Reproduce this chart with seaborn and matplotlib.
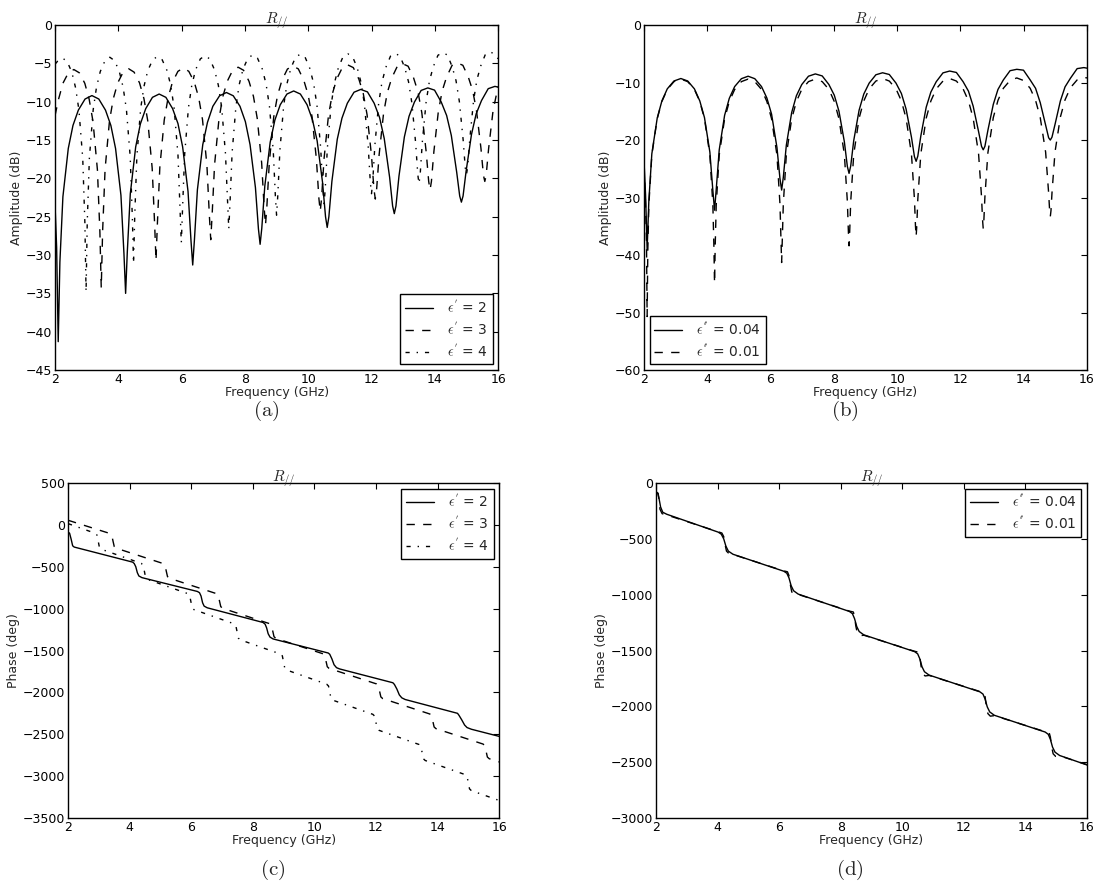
import matplotlib
matplotlib.use("Agg")
import matplotlib.pyplot as plt
import seaborn as sns

# (a) amplitude, eps' = 2 / 3 / 4
freq_a2 = [2.0, 2.05, 2.1,
           2.153, 2.248, 2.418, 2.566, 2.736, 2.948, 3.165, 3.382, 3.594, 3.764, 3.912, 4.082, 4.177, 4.23,
           4.283, 4.378, 4.548, 4.696, 4.866, 5.078, 5.29, 5.502, 5.714, 5.884, 6.032, 6.202, 6.297, 6.35,
           6.403, 6.498, 6.668, 6.816, 6.986, 7.198, 7.415, 7.632, 7.844, 8.014, 8.162, 8.332, 8.427, 8.48,
           8.533, 8.628, 8.798, 8.946, 9.116, 9.328, 9.54, 9.752, 9.964, 10.134, 10.282, 10.452, 10.547, 10.6,
           10.653, 10.748, 10.918, 11.066, 11.236, 11.448, 11.66, 11.872, 12.084, 12.254, 12.402, 12.572, 12.667, 12.72,
           12.773, 12.868, 13.038, 13.186, 13.356, 13.568, 13.78, 13.992, 14.204, 14.374, 14.522, 14.692, 14.787, 14.84,
           14.893, 14.988, 15.158, 15.306, 15.476, 15.688, 15.9, 16.0]
amp_a2 = [-23.5, -29, -41.3,
          -30.9, -22.4, -16.1, -13.1, -11.1, -9.65, -9.2, -9.65, -11.1, -13.1, -16.1, -22.2, -29.8, -35.0,
          -29.6, -22.0, -15.9, -12.9, -10.9, -9.43, -9.0, -9.43, -10.9, -12.85, -15.9, -21.7, -28.2, -31.3,
          -28.1, -21.5, -15.6, -12.7, -10.6, -9.23, -8.8, -9.23, -10.6, -12.6, -15.6, -21.2, -26.6, -28.6,
          -26.5, -21.0, -15.3, -12.4, -10.4, -9.0, -8.6, -9.0, -10.4, -12.35, -15.1, -20.5, -25.0, -26.4,
          -25.0, -20.4, -14.9, -12.15, -10.2, -8.76, -8.4, -8.72, -10.2, -12.05, -14.8, -19.85, -23.6, -24.6,
          -23.6, -19.7, -14.6, -11.9, -10.05, -8.53, -8.2, -8.49, -10.05, -11.8, -14.4, -19.2, -22.3, -23.1,
          -22.3, -19.1, -14.3, -11.6, -9.85, -8.3, -8.0, -8.1]

freq_a3 = [2.0, 2.109, 2.248, 2.421, 2.594, 2.767, 2.94, 3.079, 3.2, 3.339, 3.417, 3.46,
           3.503, 3.581, 3.72, 3.841, 3.98, 4.153, 4.325, 4.497, 4.67, 4.809, 4.93, 5.069, 5.147, 5.19,
           5.233, 5.311, 5.45, 5.571, 5.71, 5.883, 6.055, 6.227, 6.4, 6.539, 6.66, 6.799, 6.877, 6.92,
           6.963, 7.041, 7.18, 7.301, 7.44, 7.613, 7.785, 7.957, 8.13, 8.269, 8.39, 8.529, 8.607, 8.65,
           8.693, 8.771, 8.91, 9.031, 9.17, 9.343, 9.515, 9.687, 9.86, 9.999, 10.12, 10.259, 10.337, 10.38,
           10.423, 10.501, 10.64, 10.761, 10.9, 11.075, 11.25, 11.425, 11.6, 11.739, 11.86, 11.999, 12.077, 12.12,
           12.163, 12.241, 12.38, 12.501, 12.64, 12.813, 12.985, 13.157, 13.33, 13.469, 13.59, 13.729, 13.807, 13.85,
           13.893, 13.971, 14.11, 14.231, 14.37, 14.543, 14.715, 14.887, 15.06, 15.199, 15.32, 15.459, 15.537, 15.58,
           15.623, 15.701, 15.84, 16.0]
amp_a3 = [-11.8, -9.7, -7.6, -6.23, -5.8, -6.23, -7.6, -9.7, -12.6, -18.9, -27.0, -34.3,
          -26.9, -18.8, -12.5, -9.6, -7.55, -6.14, -5.7, -6.14, -7.55, -9.6, -12.5, -18.65, -26.0, -30.7,
          -26.0, -18.55, -12.4, -9.5, -7.45, -6.04, -5.6, -6.04, -7.45, -9.45, -12.35, -18.3, -24.9, -28.0,
          -24.8, -18.2, -12.25, -9.35, -7.35, -5.9, -5.5, -5.9, -7.35, -9.3, -12.2, -18.0, -23.8, -26.1,
          -23.7, -17.9, -12.0, -9.17, -7.2, -5.74, -5.35, -5.72, -7.2, -9.13, -11.95, -17.5, -22.6, -24.3,
          -22.55, -17.4, -11.8, -9.0, -7.05, -5.58, -5.2, -5.55, -7.05, -8.93, -11.7, -17.0, -21.4, -22.7,
          -21.35, -16.9, -11.55, -8.78, -6.9, -5.4, -5.05, -5.37, -6.9, -8.72, -11.45, -16.6, -20.4, -21.5,
          -20.4, -16.5, -11.35, -8.63, -6.8, -5.28, -4.95, -5.25, -6.8, -8.57, -11.25, -16.1, -19.6, -20.4,
          -19.6, -16.1, -11.2, -8.0]

freq_a4 = [2.0, 2.078, 2.23, 2.38, 2.53, 2.65, 2.755, 2.875, 2.9425, 2.98,
           3.0175, 3.085, 3.205, 3.31, 3.43, 3.58, 3.73, 3.88, 4.03, 4.15, 4.255, 4.375, 4.4425, 4.48,
           4.5175, 4.585, 4.705, 4.81, 4.93, 5.085, 5.235, 5.385, 5.54, 5.66, 5.765, 5.885, 5.9525, 5.99,
           6.0275, 6.095, 6.215, 6.32, 6.44, 6.59, 6.74, 6.89, 7.04, 7.16, 7.265, 7.385, 7.4525, 7.49,
           7.5275, 7.595, 7.715, 7.82, 7.94, 8.095, 8.245, 8.395, 8.55, 8.67, 8.775, 8.895, 8.9625, 9.0,
           9.0375, 9.105, 9.225, 9.33, 9.45, 9.6, 9.75, 9.9, 10.05, 10.17, 10.275, 10.395, 10.4625, 10.5,
           10.5375, 10.605, 10.725, 10.83, 10.95, 11.1, 11.25, 11.4, 11.55, 11.67, 11.775, 11.895, 11.9625, 12.0,
           12.0375, 12.105, 12.225, 12.33, 12.45, 12.6, 12.75, 12.9, 13.05, 13.17, 13.275, 13.395, 13.4625, 13.5,
           13.5375, 13.605, 13.725, 13.83, 13.95, 14.1, 14.25, 14.4, 14.55, 14.67, 14.775, 14.895, 14.9625, 15.0,
           15.0375, 15.105, 15.225, 15.33, 15.45, 15.6, 15.75, 15.9, 16.0]
amp_a4 = [-5.1, -4.73, -4.3, -4.73, -6.15, -8.2, -11.1, -17.4, -25.8, -34.8,
          -25.7, -17.35, -11.05, -8.1, -6.05, -4.64, -4.2, -4.64, -6.05, -8.1, -11.0, -17.2, -25.1, -31.1,
          -25.0, -17.15, -10.9, -8.0, -5.95, -4.53, -4.1, -4.53, -5.95, -7.95, -10.9, -17.0, -24.1, -28.4,
          -24.1, -16.9, -10.8, -7.88, -5.85, -4.42, -4.0, -4.42, -5.85, -7.85, -10.75, -16.75, -23.3, -26.6,
          -23.3, -16.65, -10.65, -7.76, -5.75, -4.31, -3.9, -4.3, -5.75, -7.73, -10.6, -16.4, -22.35, -24.8,
          -22.3, -16.35, -10.5, -7.63, -5.65, -4.19, -3.8, -4.18, -5.65, -7.6, -10.4, -16.1, -21.4, -23.3,
          -21.4, -16.05, -10.4, -7.55, -5.6, -4.13, -3.75, -4.11, -5.6, -7.5, -10.3, -15.8, -20.5, -22.0,
          -20.5, -15.75, -10.25, -7.45, -5.55, -4.06, -3.7, -4.04, -5.55, -7.4, -10.15, -15.4, -19.5, -20.7,
          -19.5, -15.3, -10.05, -7.31, -5.45, -3.94, -3.6, -3.91, -5.45, -7.24, -9.95, -14.95, -18.6, -19.5,
          -18.55, -14.9, -9.85, -7.15, -5.35, -3.81, -3.5, -3.81, -4.4]

# (b) amplitude, eps'' = 0.04 (same frequencies as freq_a2) / 0.01
amp_b04 = [-23.5, -29.5, -39.0,
           -30.7, -22.4, -16.2, -13.2, -11.1, -9.73, -9.3, -9.73, -11.1, -13.2, -16.1, -22.1, -28.8, -32.2,
           -28.6, -21.7, -15.7, -12.75, -10.7, -9.33, -8.9, -9.33, -10.7, -12.7, -15.5, -21.3, -26.7, -28.7,
           -26.5, -20.9, -15.2, -12.3, -10.35, -8.9, -8.5, -8.85, -10.35, -12.2, -15.0, -20.3, -24.6, -25.8,
           -24.5, -20.1, -14.8, -12.0, -10.1, -8.65, -8.3, -8.6, -10.1, -11.9, -14.6, -19.5, -22.9, -23.7,
           -22.8, -19.3, -14.3, -11.65, -9.85, -8.32, -8.0, -8.25, -9.85, -11.5, -14.1, -18.5, -21.1, -21.7,
           -21.1, -18.3, -13.8, -11.2, -9.55, -7.94, -7.7, -7.85, -9.55, -11.0, -13.5, -17.4, -19.6, -20.0,
           -19.5, -17.3, -13.2, -10.75, -9.25, -7.58, -7.4, -7.5]

freq_b01 = [2.0, 2.05, 2.08, 2.1,
            2.121, 2.153, 2.248, 2.418, 2.566, 2.736, 2.948, 3.165, 3.382, 3.594, 3.764, 3.912, 4.082, 4.177, 4.209, 4.23,
            4.251, 4.283, 4.378, 4.548, 4.696, 4.866, 5.078, 5.29, 5.502, 5.714, 5.884, 6.032, 6.202, 6.297, 6.329, 6.35,
            6.371, 6.403, 6.498, 6.668, 6.816, 6.986, 7.198, 7.415, 7.632, 7.844, 8.014, 8.162, 8.332, 8.427, 8.459, 8.48,
            8.501, 8.533, 8.628, 8.798, 8.946, 9.116, 9.328, 9.54, 9.752, 9.964, 10.134, 10.282, 10.452, 10.547, 10.579, 10.6,
            10.621, 10.653, 10.748, 10.918, 11.066, 11.236, 11.448, 11.66, 11.872, 12.084, 12.254, 12.402, 12.572, 12.667, 12.699, 12.72,
            12.741, 12.773, 12.868, 13.038, 13.186, 13.356, 13.568, 13.78, 13.992, 14.204, 14.374, 14.522, 14.692, 14.787, 14.819, 14.84,
            14.861, 14.893, 14.988, 15.158, 15.306, 15.476, 15.688, 15.9, 16.0]
amp_b01 = [-24.5, -31, -38, -50.7,
           -39.3, -31.4, -22.6, -16.3, -13.3, -11.2, -9.84, -9.4, -9.84, -11.2, -13.3, -16.3, -22.6, -31.3, -38.4, -44.9,
           -38.4, -31.3, -22.6, -16.3, -13.3, -11.2, -9.84, -9.4, -9.84, -11.2, -13.3, -16.3, -22.6, -31.1, -37.3, -41.3,
           -37.3, -31.1, -22.6, -16.3, -13.3, -11.2, -9.84, -9.4, -9.84, -11.2, -13.3, -16.3, -22.5, -30.7, -35.9, -38.4,
           -35.9, -30.7, -22.5, -16.2, -13.2, -11.1, -9.74, -9.3, -9.74, -11.1, -13.2, -16.2, -22.4, -30.3, -34.9, -36.8,
           -34.9, -30.3, -22.4, -16.2, -13.2, -11.1, -9.74, -9.3, -9.74, -11.1, -13.2, -16.2, -22.3, -29.9, -33.9, -35.4,
           -33.9, -29.9, -22.2, -16.1, -13.1, -11.0, -9.64, -9.2, -9.64, -11.0, -13.1, -16.1, -22.1, -29.2, -32.3, -33.3,
           -32.3, -29.2, -22.1, -16.0, -13.0, -10.9, -9.54, -9.1, -9.2]

# (c) phase, eps' = 2 / 3 / 4
freq_c2 = [2.0, 2.05, 2.1, 2.15, 2.2, 4.1, 4.15, 4.2, 4.25, 4.3, 4.4,
           6.2, 6.27, 6.32, 6.37, 6.42, 6.52, 8.33, 8.4, 8.45, 8.5, 8.56, 8.66,
           10.45, 10.5, 10.57, 10.64, 10.72, 10.82, 12.55, 12.6, 12.68, 12.76, 12.84, 12.95,
           14.65, 14.7, 14.79, 14.88, 14.96, 15.1, 16.0]
phase_c2 = [-85, -100, -170, -250, -265, -445, -462, -500, -570, -610, -630,
            -795, -810, -850, -930, -970, -990, -1165, -1185, -1230, -1300, -1340, -1362,
            -1530, -1545, -1600, -1670, -1705, -1720, -1885, -1905, -1960, -2030, -2065, -2085,
            -2250, -2275, -2330, -2390, -2420, -2440, -2525]

freq_c3 = [2.0, 3.36, 3.42, 3.46, 3.5, 3.56, 5.09, 5.15, 5.19, 5.23, 5.29,
           6.82, 6.88, 6.92, 6.96, 7.02, 8.55, 8.61, 8.65, 8.69, 8.75,
           10.28, 10.34, 10.38, 10.42, 10.48, 12.02, 12.08, 12.12, 12.16, 12.22,
           13.75, 13.81, 13.85, 13.89, 13.95, 15.48, 15.54, 15.58, 15.62, 15.68, 16.0]
phase_c3 = [55, -103, -123, -193, -258, -278, -462, -482, -552, -617, -637,
            -821, -841, -911, -976, -996, -1180, -1200, -1270, -1335, -1355,
            -1539, -1559, -1629, -1694, -1714, -1899, -1919, -1989, -2054, -2074,
            -2258, -2278, -2348, -2413, -2433, -2617, -2637, -2707, -2772, -2792, -2830]

freq_c4 = [2.0, 2.88, 2.94, 2.98, 3.02, 3.08, 4.38, 4.44, 4.48, 4.52, 4.58,
           5.89, 5.95, 5.99, 6.03, 6.09, 7.39, 7.45, 7.49, 7.53, 7.59,
           8.9, 8.96, 9.0, 9.04, 9.1, 10.4, 10.46, 10.5, 10.54, 10.6,
           11.9, 11.96, 12.0, 12.04, 12.1, 13.4, 13.46, 13.5, 13.54, 13.6,
           14.9, 14.96, 15.0, 15.04, 15.1, 16.0]
phase_c4 = [15, -100, -122, -195, -270, -291, -460, -482, -555, -630, -651,
            -821, -843, -916, -991, -1012, -1181, -1203, -1276, -1351, -1372,
            -1542, -1564, -1637, -1712, -1733, -1902, -1924, -1997, -2072, -2093,
            -2262, -2284, -2357, -2432, -2453, -2622, -2644, -2717, -2792, -2813,
            -2982, -3004, -3077, -3152, -3173, -3290]

# (d) phase, eps'' = 0.04 / 0.01
freq_d04 = [2.0, 2.06, 2.1, 2.15, 2.22, 2.35, 4.02, 4.12, 4.2, 4.27, 4.35, 4.5,
            6.15, 6.25, 6.32, 6.39, 6.47, 6.62, 8.28, 8.38, 8.45, 8.52, 8.6, 8.75,
            10.4, 10.5, 10.57, 10.64, 10.72, 10.87, 12.52, 12.62, 12.69, 12.76, 12.84, 12.99,
            14.64, 14.74, 14.81, 14.88, 14.96, 15.11, 16.0]
phase_d04 = [-80, -95, -140, -215, -262, -280, -440, -458, -500, -565, -610, -638,
             -790, -808, -850, -920, -965, -995, -1150, -1170, -1215, -1285, -1330, -1360,
             -1510, -1530, -1575, -1645, -1690, -1720, -1870, -1890, -1935, -2005, -2050, -2080,
             -2230, -2250, -2295, -2365, -2410, -2440, -2525]

freq_d01 = [2.0, 2.07, 2.1, 2.13, 2.2, 2.3, 4.02, 4.14, 4.2, 4.24, 4.29, 4.37, 4.5,
            6.15, 6.27, 6.32, 6.36, 6.41, 6.49, 6.62, 8.28, 8.41, 8.45, 8.49, 8.54, 8.62, 8.75,
            10.4, 10.53, 10.57, 10.61, 10.66, 10.74, 10.87, 12.52, 12.65, 12.69, 12.73, 12.78, 12.86, 12.99,
            14.64, 14.77, 14.81, 14.85, 14.9, 14.98, 15.11, 16.0]
phase_d01 = [-78, -92, -150, -235, -275, -282, -437, -448, -480, -545, -610, -632, -640,
             -787, -795, -830, -905, -975, -1000, -998, -1147, -1155, -1195, -1280, -1345, -1368, -1363,
             -1507, -1515, -1555, -1640, -1705, -1728, -1723, -1867, -1875, -1915, -2000, -2065, -2088, -2083,
             -2227, -2235, -2275, -2360, -2425, -2448, -2443, -2522]

labels_real = [r"$\epsilon^{'}$ = 2", r"$\epsilon^{'}$ = 3", r"$\epsilon^{'}$ = 4"]
labels_imag = [r"$\epsilon^{''}$ = 0.04", r"$\epsilon^{''}$ = 0.01"]

SOLID = "-"
DASHED = (0, (6, 6))
DASHDOT = (0, (3, 5, 1, 5))

sns.set_theme(style="white")
plt.rcParams["font.family"] = ["DejaVu Sans"]
plt.rcParams["mathtext.fontset"] = "cm"
plt.rcParams["axes.edgecolor"] = "black"
plt.rcParams["axes.linewidth"] = 1.0

fig = plt.figure(figsize=(11.01, 8.88), dpi=100)
ax_a = fig.add_axes([0.050, 0.5833, 0.4024, 0.3885])
ax_b = fig.add_axes([0.5849, 0.5833, 0.4024, 0.3885])
ax_c = fig.add_axes([0.0618, 0.0788, 0.3915, 0.3773])
ax_d = fig.add_axes([0.5958, 0.0788, 0.3915, 0.3773])


def draw(ax, x, y, ls, label):
    sns.lineplot(x=x, y=y, ax=ax, color="black", linewidth=1.0, linestyle=ls,
                 label=label, errorbar=None, sort=False)


def style(ax, ylabel, ylim, yticks, legend_loc):
    ax.set_xlim(2, 16)
    ax.set_ylim(*ylim)
    ax.set_xticks(range(2, 17, 2))
    ax.set_yticks(yticks)
    ax.set_xlabel("Frequency (GHz)", fontsize=9, labelpad=0)
    ax.set_ylabel(ylabel, fontsize=9, labelpad=2)
    ax.set_title(r"$R_{//}$", fontsize=11, pad=1)
    ax.tick_params(direction="in", top=True, right=True, length=4, width=0.8,
                   labelsize=9, pad=2, colors="black")
    leg = ax.legend(loc=legend_loc, fontsize=10, fancybox=False, edgecolor="black",
                    framealpha=1, handlelength=2.0, handletextpad=1.0,
                    labelspacing=0.35, borderpad=0.35, borderaxespad=0.4)
    leg.get_frame().set_linewidth(1.0)


draw(ax_a, freq_a2, amp_a2, SOLID, labels_real[0])
draw(ax_a, freq_a3, amp_a3, DASHED, labels_real[1])
draw(ax_a, freq_a4, amp_a4, DASHDOT, labels_real[2])
style(ax_a, "Amplitude (dB)", (-45, 0), range(-45, 1, 5), "lower right")

draw(ax_b, freq_a2, amp_b04, SOLID, labels_imag[0])
draw(ax_b, freq_b01, amp_b01, DASHED, labels_imag[1])
style(ax_b, "Amplitude (dB)", (-60, 0), range(-60, 1, 10), "lower left")

draw(ax_c, freq_c2, phase_c2, SOLID, labels_real[0])
draw(ax_c, freq_c3, phase_c3, DASHED, labels_real[1])
draw(ax_c, freq_c4, phase_c4, DASHDOT, labels_real[2])
style(ax_c, "Phase (deg)", (-3500, 500), range(-3500, 501, 500), "upper right")

draw(ax_d, freq_d04, phase_d04, SOLID, labels_imag[0])
draw(ax_d, freq_d01, phase_d01, DASHED, labels_imag[1])
style(ax_d, "Phase (deg)", (-3000, 0), range(-3000, 1, 500), "upper right")

# captions sit a little left of the axes centre, as in the source figure
for tag, xpos, ypos in [("(a)", 0.2416, 0.5375), ("(b)", 0.7675, 0.5375),
                        ("(c)", 0.248, 0.0203), ("(d)", 0.772, 0.0203)]:
    fig.text(xpos, ypos, r"$\mathrm{" + tag + "}$", fontsize=15, ha="center", va="center")

fig.savefig("out.png", dpi=100)
